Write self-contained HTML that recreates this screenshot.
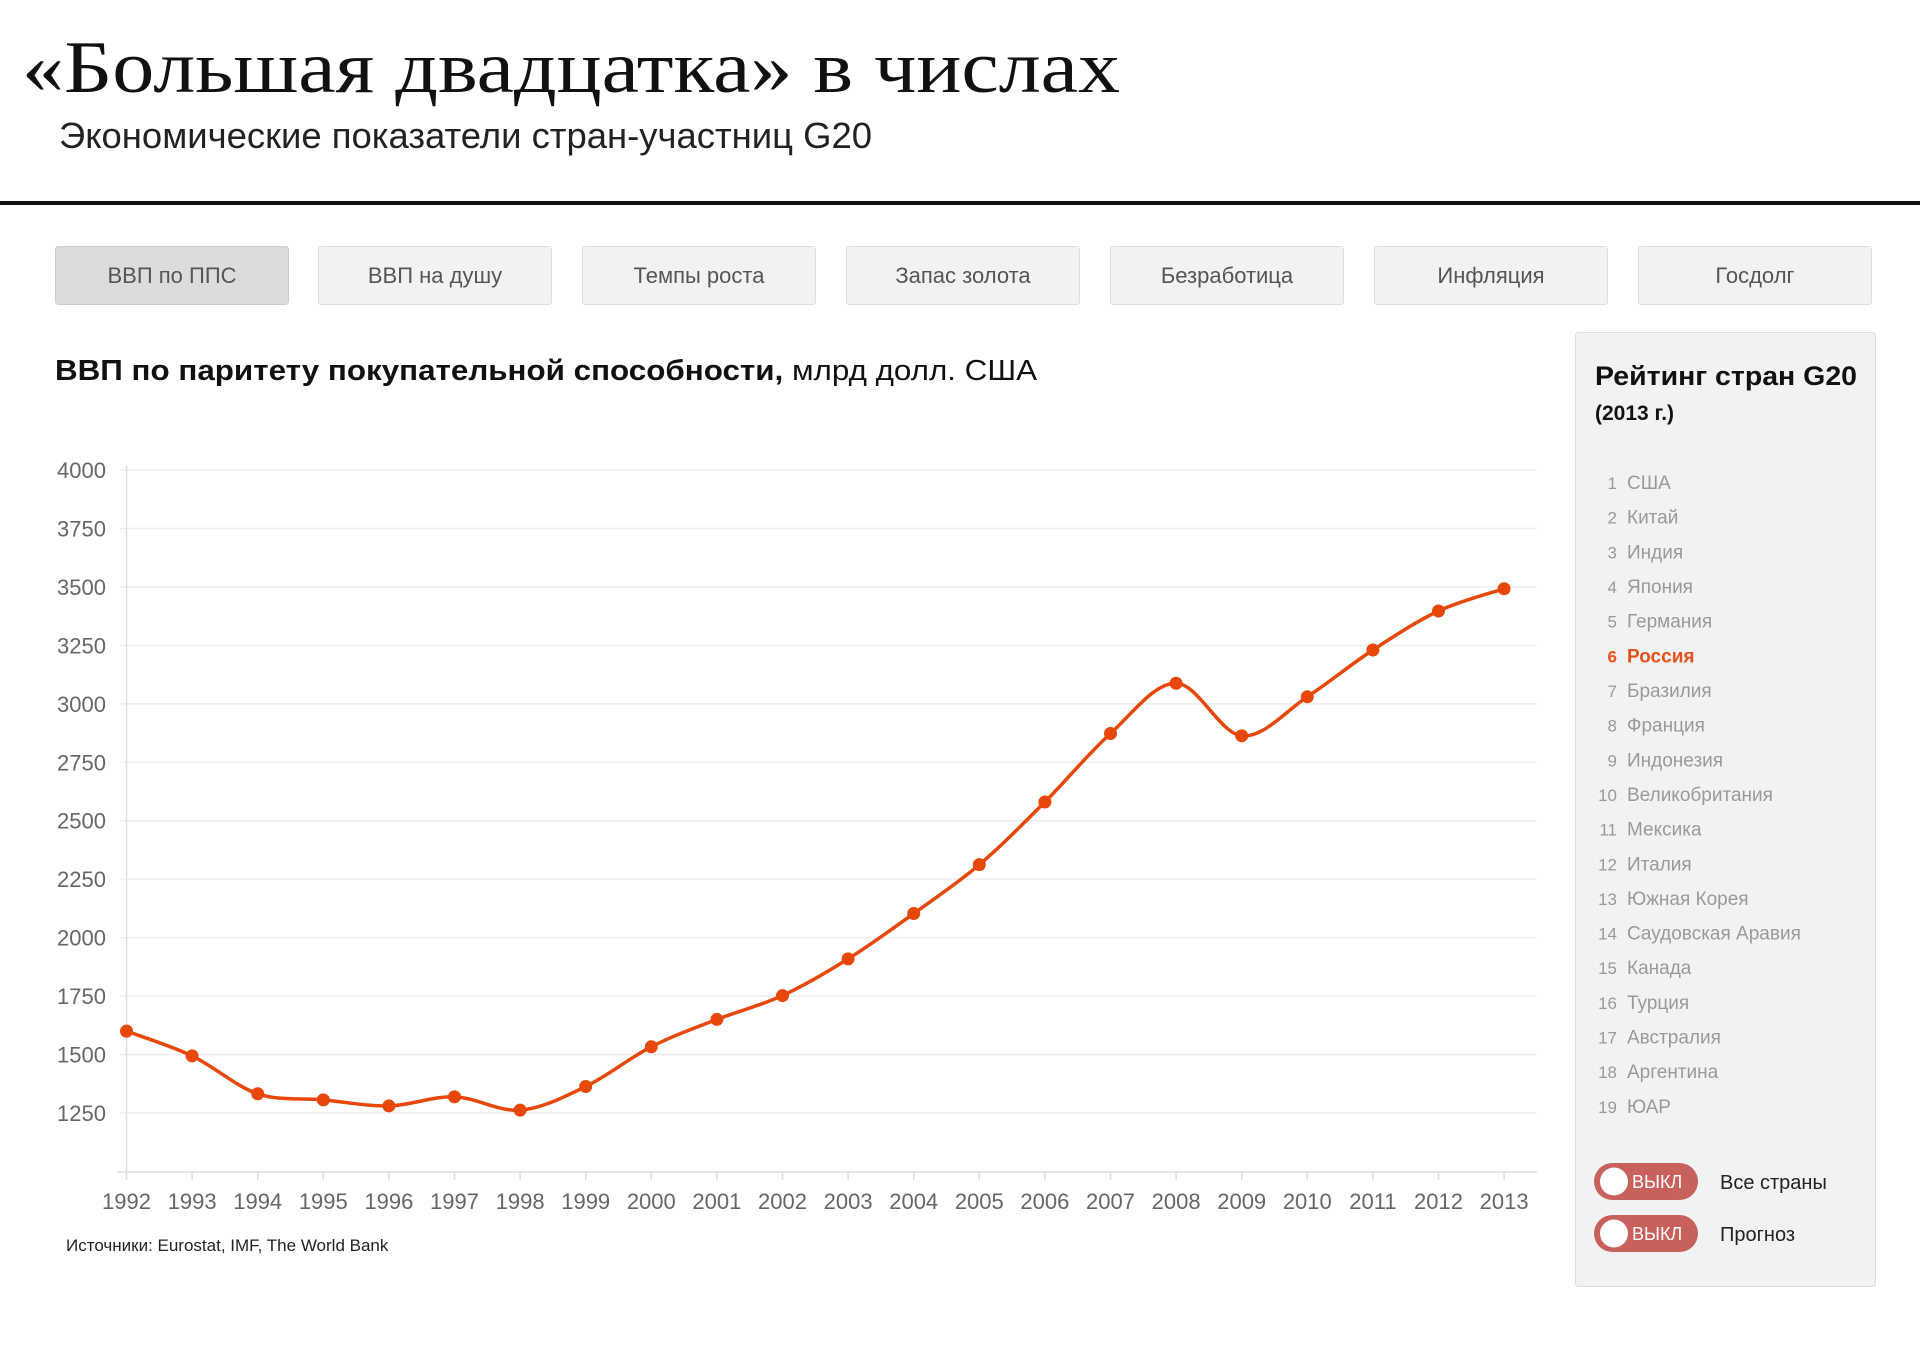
<!DOCTYPE html>
<html><head><meta charset="utf-8"><style>
html,body{margin:0;padding:0;background:#fff;width:1920px;height:1346px;overflow:hidden}
svg{display:block}
</style></head><body>
<svg width="1920" height="1346" viewBox="0 0 1920 1346" xmlns="http://www.w3.org/2000/svg" font-family="Liberation Sans, DejaVu Sans, sans-serif">
<text x="22" y="92" font-family="Liberation Serif, serif" font-size="74" fill="#111" textLength="1098" lengthAdjust="spacingAndGlyphs">«Большая двадцатка» в числах</text>
<text x="59" y="148" font-size="36" fill="#222" textLength="813" lengthAdjust="spacingAndGlyphs">Экономические показатели стран-участниц G20</text>
<rect x="0" y="201" width="1920" height="4" fill="#111"/>
<g font-size="22" fill="#555" text-anchor="middle">
<rect x="55.5" y="246.5" width="233" height="58" rx="3" fill="#dcdcdc" stroke="#ccc"/><text x="172" y="283">ВВП по ППС</text>
<rect x="318.5" y="246.5" width="233" height="58" rx="3" fill="#f2f2f2" stroke="#ddd"/><text x="435" y="283">ВВП на душу</text>
<rect x="582.5" y="246.5" width="233" height="58" rx="3" fill="#f2f2f2" stroke="#ddd"/><text x="699" y="283">Темпы роста</text>
<rect x="846.5" y="246.5" width="233" height="58" rx="3" fill="#f2f2f2" stroke="#ddd"/><text x="963" y="283">Запас золота</text>
<rect x="1110.5" y="246.5" width="233" height="58" rx="3" fill="#f2f2f2" stroke="#ddd"/><text x="1227" y="283">Безработица</text>
<rect x="1374.5" y="246.5" width="233" height="58" rx="3" fill="#f2f2f2" stroke="#ddd"/><text x="1491" y="283">Инфляция</text>
<rect x="1638.5" y="246.5" width="233" height="58" rx="3" fill="#f2f2f2" stroke="#ddd"/><text x="1755" y="283">Госдолг</text>
</g>
<text x="55" y="380" font-size="29" fill="#111" textLength="982" lengthAdjust="spacingAndGlyphs"><tspan font-weight="bold">ВВП по паритету покупательной способности,</tspan> млрд долл. США</text>
<g id="grid" stroke="#eee" stroke-width="1.5"></g>
<line x1="126.5" x2="126.5" y1="466" y2="1178" stroke="#ddd" stroke-width="1.5"/>
<line x1="117" x2="1537" y1="1172" y2="1172" stroke="#ddd" stroke-width="1.5"/>
<g id="yl" font-size="22" fill="#666" text-anchor="end"></g>
<g id="ticks" stroke="#ddd" stroke-width="1.5"></g>
<g id="xl" font-size="22" fill="#666" text-anchor="middle"></g>
<path id="line" fill="none" stroke="#e8470a" stroke-width="3.5" d=""/>
<g id="dots" fill="#e8470a"></g>
<text x="66" y="1251" font-size="17" fill="#222">Источники: Eurostat, IMF, The World Bank</text>
<rect x="1575.5" y="332.5" width="300" height="954" rx="3" fill="#f2f2f2" stroke="#ddd"/>
<text x="1595" y="385" font-size="27" font-weight="bold" fill="#111" textLength="262" lengthAdjust="spacingAndGlyphs">Рейтинг стран G20</text>
<text x="1595" y="420" font-size="21" font-weight="bold" fill="#111">(2013 г.)</text>
<g id="list" font-size="19" fill="#999"></g>
<g font-size="18">
<rect x="1594" y="1163" width="104" height="37" rx="18.5" fill="#c8605b"/><circle cx="1614" cy="1181.5" r="14" fill="#fff"/><text x="1632" y="1188" fill="#fff">ВЫКЛ</text>
<rect x="1594" y="1215" width="104" height="37" rx="18.5" fill="#c8605b"/><circle cx="1614" cy="1233.5" r="14" fill="#fff"/><text x="1632" y="1240" fill="#fff">ВЫКЛ</text>
</g>
<text x="1720" y="1189" font-size="20" fill="#222">Все страны</text>
<text x="1720" y="1241" font-size="20" fill="#222">Прогноз</text>
</svg>
<script>
var NS="http://www.w3.org/2000/svg";
var vals=[1600,1494,1332,1306,1280,1319,1262,1363,1533,1650,1752,1909,2103,2312,2580,2873,3088,2863,3030,3230,3397,3492];
function Y(v){return 470+(4000-v)*0.2338;}
var xs=[],ys=[];
for(var i=0;i<22;i++){xs.push(126.5+i*65.6);ys.push(Y(vals[i]));}
function el(t,a,p,txt){var e=document.createElementNS(NS,t);for(var k in a)e.setAttribute(k,a[k]);if(txt)e.textContent=txt;document.getElementById(p).appendChild(e);}
for(var k=0;k<12;k++){var v=4000-k*250,y=Y(v);el('line',{x1:120,x2:1537,y1:y,y2:y},'grid');el('text',{x:106,y:y+8},'yl',String(v));}
for(var i=0;i<22;i++){el('line',{x1:xs[i],x2:xs[i],y1:1172,y2:1180},'ticks');el('text',{x:xs[i],y:1209},'xl',String(1992+i));el('circle',{cx:xs[i],cy:ys[i],r:6.5},'dots');}
var d="M"+xs[0]+","+ys[0];
for(var i=0;i<21;i++){var p0=i>0?i-1:i,p3=i<20?i+2:i+1,t=6;
d+=" C"+(xs[i]+(xs[i+1]-xs[p0])/t)+","+(ys[i]+(ys[i+1]-ys[p0])/t)+" "+(xs[i+1]-(xs[p3]-xs[i])/t)+","+(ys[i+1]-(ys[p3]-ys[i])/t)+" "+xs[i+1]+","+ys[i+1];}
document.getElementById('line').setAttribute('d',d);
var names=["США","Китай","Индия","Япония","Германия","Россия","Бразилия","Франция","Индонезия","Великобритания","Мексика","Италия","Южная Корея","Саудовская Аравия","Канада","Турция","Австралия","Аргентина","ЮАР"];
for(var i=0;i<19;i++){var y=489+i*34.66,a=i==5?{fill:"#e8501a","font-weight":"bold"}:{};
var o={x:1617,y:y,"text-anchor":"end","font-size":"17"};for(var k in a)o[k]=a[k];el('text',o,'list',String(i+1));
var o2={x:1627,y:y};for(var k in a)o2[k]=a[k];el('text',o2,'list',names[i]);}
</script>
</body></html>
